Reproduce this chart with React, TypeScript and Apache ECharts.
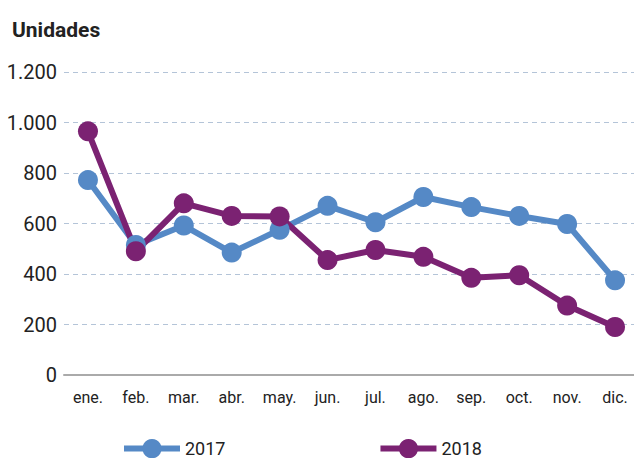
import React, { useEffect, useRef } from "react";
import * as echarts from "echarts";

const months = ["ene.", "feb.", "mar.", "abr.", "may.", "jun.", "jul.", "ago.", "sep.", "oct.", "nov.", "dic."];
const values2017 = [772, 515, 592, 485, 575, 670, 605, 705, 665, 630, 598, 375];
const values2018 = [965, 490, 680, 630, 628, 455, 495, 468, 385, 395, 275, 190];
const seriesNames = ["2017", "2018"];
const colors = ["#5589C6", "#7B2272"];

const FONT = "Roboto, 'Liberation Sans', sans-serif";

export default function App() {
  const ref = useRef<HTMLDivElement>(null);
  useEffect(() => {
    if (!ref.current) return;
    const chart = echarts.init(ref.current, undefined, { renderer: "svg" });
    const mk = (name: string, data: number[], color: string) => ({
      name,
      type: "line",
      data,
      symbol: "circle",
      symbolSize: 20,
      lineStyle: { width: 6, color },
      itemStyle: { color },
      emphasis: { disabled: true },
    });
    chart.setOption({
      animation: false,
      textStyle: { fontFamily: FONT },
      title: {
        text: "Unidades",
        left: 7,
        top: 14,
        textStyle: { fontFamily: FONT, fontSize: 21, fontWeight: "bold", color: "#222" },
      },
      legend: {
        left: 116,
        top: 434,
        itemWidth: 56,
        itemHeight: 24,
        itemGap: 152,
        lineStyle: { width: 6 },
        textStyle: { fontFamily: FONT, fontSize: 18, lineHeight: 18, color: "#222" },
        data: seriesNames,
      },
      grid: { left: 64, width: 575, top: 72, bottom: 83, outerBoundsMode: "none", containLabel: false },
      xAxis: {
        type: "category",
        data: months,
        boundaryGap: true,
        axisLine: { lineStyle: { color: "#aaaaaa", width: 2 } },
        axisTick: { show: false },
        axisLabel: { interval: 0, fontFamily: FONT, fontSize: 16, color: "#222", margin: 14 },
      },
      yAxis: {
        type: "value",
        min: 0,
        max: 1200,
        interval: 200,
        axisLine: { show: false },
        axisTick: { show: false },
        splitLine: { lineStyle: { type: [5, 4], color: "#b4c4d8", width: 1.2 } },
        axisLabel: {
          fontFamily: FONT,
          fontSize: 20,
          color: "#222",
          margin: 7,
          formatter: (v: number) => v.toLocaleString("de-DE"),
        },
      },
      series: [
        mk(seriesNames[0], values2017, colors[0]),
        mk(seriesNames[1], values2018, colors[1]),
      ],
    });
    return () => chart.dispose();
  }, []);
  return <div ref={ref} style={{ width: 634, height: 458, position: "absolute", left: 0, top: 0 }} />;
}
